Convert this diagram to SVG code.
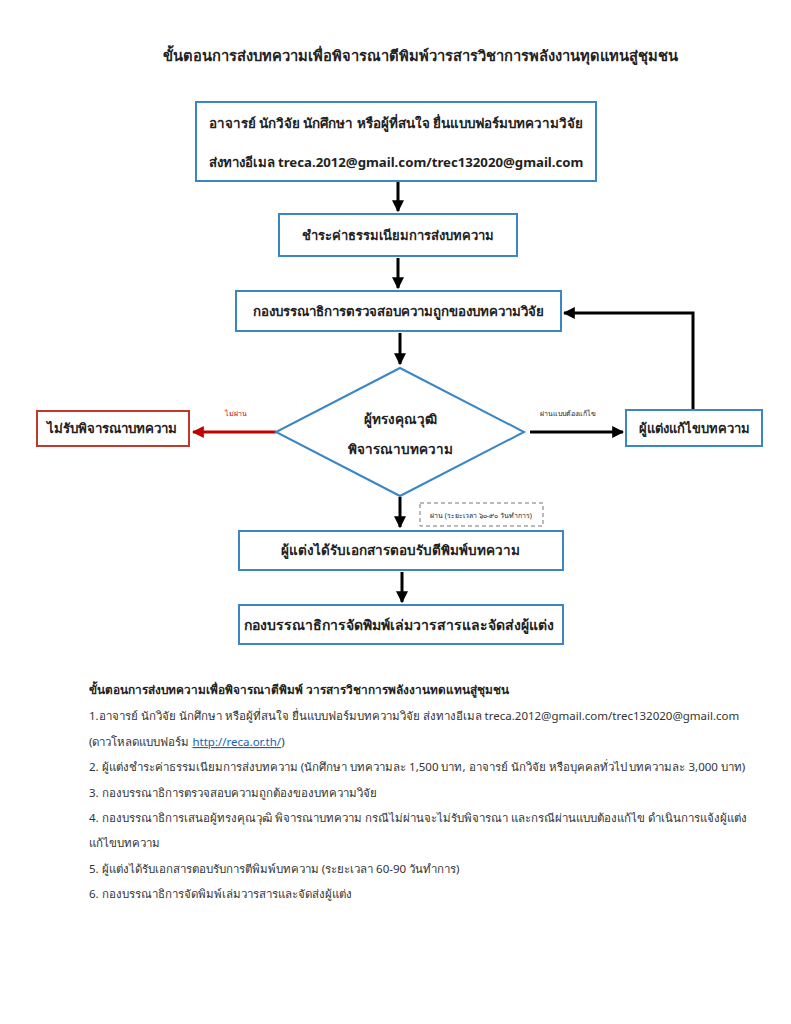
<svg xmlns="http://www.w3.org/2000/svg" width="791" height="1024" viewBox="0 0 791 1024">
<style>
text{font-family:"Noto Sans","DejaVu Sans","Liberation Sans",sans-serif;fill:#222}
.b{font-weight:bold}
.box{fill:#fff;stroke:#3a86c6;stroke-width:2}
.c{text-anchor:middle}
.p{font-size:11.5px;fill:#333}
</style>
<defs>
<marker id="ah" viewBox="0 0 10 10" refX="9" refY="5" markerWidth="4" markerHeight="4" orient="auto" markerUnits="strokeWidth"><path d="M0,0L10,5L0,10z" fill="#000"/></marker>
<marker id="ahr" viewBox="0 0 10 10" refX="9" refY="5" markerWidth="4" markerHeight="4" orient="auto" markerUnits="strokeWidth"><path d="M0,0L10,5L0,10z" fill="#c00000"/></marker>
</defs>
<rect width="791" height="1024" fill="#fff"/>
<text id="title" class="b c" x="420" y="61" font-size="14.7">ขั้นตอนการส่งบทความเพื่อพิจารณาตีพิมพ์วารสารวิชาการพลังงานทุดแทนสู่ชุมชน</text>
<g id="connectors" fill="none">
<path d="M398,181V211" stroke="#000" stroke-width="3" marker-end="url(#ah)"/>
<path d="M398,258V288" stroke="#000" stroke-width="3" marker-end="url(#ah)"/>
<path d="M400,333V364" stroke="#000" stroke-width="3" marker-end="url(#ah)"/>
<path d="M276,432H193" stroke="#c00000" stroke-width="3" marker-end="url(#ahr)"/>
<path d="M530,432H623" stroke="#000" stroke-width="3" marker-end="url(#ah)"/>
<path d="M693,409V313H564" stroke="#000" stroke-width="3" marker-end="url(#ah)"/>
<path d="M400,497V527" stroke="#000" stroke-width="3" marker-end="url(#ah)"/>
<path d="M402,572V602" stroke="#000" stroke-width="3" marker-end="url(#ah)"/>
<text x="236" y="416" font-size="7" class="c" style="fill:#c00000">ไม่ผ่าน</text>
<text x="568" y="416" font-size="7" class="c">ผ่านแบบต้องแก้ไข</text>
<g id="passLabel"><rect x="420" y="503" width="123" height="23" fill="none" stroke="#777" stroke-dasharray="4,3"/>
<text x="481" y="518" font-size="7" class="c">ผ่าน (ระยะเวลา ๖๐-๙๐ วันทำการ)</text></g>
</g>
<g id="n1"><rect class="box" x="196" y="102" width="400" height="79"/>
<text class="b c" x="396" y="128" font-size="13.4">อาจารย์ นักวิจัย นักศึกษา หรือผู้ที่สนใจ ยื่นแบบฟอร์มบทความวิจัย</text>
<text class="b c" x="396" y="167" font-size="13.2">ส่งทางอีเมล treca.2012@gmail.com/trec132020@gmail.com</text></g>
<g id="n2"><rect class="box" x="279" y="214" width="238" height="42"/>
<text class="b c" x="398" y="240" font-size="13">ชำระค่าธรรมเนียมการส่งบทความ</text></g>
<g id="n3"><rect class="box" x="236" y="291" width="325" height="40"/>
<text class="b c" x="398" y="316" font-size="13.3">กองบรรณาธิการตรวจสอบความถูกของบทความวิจัย</text></g>
<g id="n4"><path class="box" d="M400,368L524,432L400,496L276,432Z"/>
<text class="b c" x="400" y="424" font-size="13.5">ผู้ทรงคุณวุฒิ</text>
<text class="b c" x="400" y="454" font-size="13.5">พิจารณาบทความ</text></g>
<g id="n5"><rect x="37" y="411" width="152" height="35" fill="#fff" stroke="#c0392b" stroke-width="2"/>
<text class="b c" x="112" y="433" font-size="13.3">ไม่รับพิจารณาบทความ</text></g>
<g id="n6"><rect class="box" x="626" y="410" width="136" height="36"/>
<text class="b c" x="694" y="433" font-size="13">ผู้แต่งแก้ไขบทความ</text></g>
<g id="n7"><rect class="box" x="239" y="531" width="324" height="39"/>
<text class="b c" x="400" y="555" font-size="13.5">ผู้แต่งได้รับเอกสารตอบรับตีพิมพ์บทความ</text></g>
<g id="n8"><rect class="box" x="239" y="605" width="324" height="39"/>
<text class="b c" x="399" y="630" font-size="14">กองบรรณาธิการจัดพิมพ์เล่มวารสารและจัดส่งผู้แต่ง</text></g>
<g id="notes">
<text class="b" x="89" y="694" font-size="11.8">ขั้นตอนการส่งบทความเพื่อพิจารณาตีพิมพ์ วารสารวิชาการพลังงานทดแทนสู่ชุมชน</text>
<text class="p" x="89" y="720">1.อาจารย์ นักวิจัย นักศึกษา หรือผู้ที่สนใจ ยื่นแบบฟอร์มบทความวิจัย ส่งทางอีเมล treca.2012@gmail.com/trec132020@gmail.com</text>
<text class="p" x="89" y="746">(ดาวโหลดแบบฟอร์ม <tspan text-decoration="underline" style="fill:#1a5fb4">http://reca.or.th/</tspan>)</text>
<text class="p" x="89" y="771">2. ผู้แต่งชำระค่าธรรมเนียมการส่งบทความ (นักศึกษา บทความละ 1,500 บาท, อาจารย์ นักวิจัย หรือบุคคลทั่วไป บทความละ 3,000 บาท)</text>
<text class="p" x="89" y="797">3. กองบรรณาธิการตรวจสอบความถูกต้องของบทความวิจัย</text>
<text class="p" x="89" y="822">4. กองบรรณาธิการเสนอผู้ทรงคุณวุฒิ พิจารณาบทความ กรณีไม่ผ่านจะไม่รับพิจารณา และกรณีผ่านแบบต้องแก้ไข ดำเนินการแจ้งผู้แต่ง</text>
<text class="p" x="89" y="847">แก้ไขบทความ</text>
<text class="p" x="89" y="873">5. ผู้แต่งได้รับเอกสารตอบรับการตีพิมพ์บทความ (ระยะเวลา 60-90 วันทำการ)</text>
<text class="p" x="89" y="898">6. กองบรรณาธิการจัดพิมพ์เล่มวารสารและจัดส่งผู้แต่ง</text>
</g>
</svg>
